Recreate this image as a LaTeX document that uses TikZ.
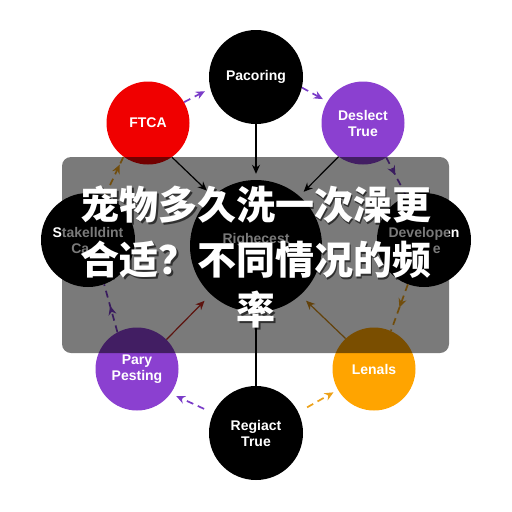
\documentclass[tikz,border=0pt]{standalone}
\usepackage{fontspec}
\setmainfont{Liberation Sans}
\newfontfamily\cjk{Noto Sans CJK SC}
\usetikzlibrary{arrows.meta,decorations.markings}
\definecolor{cred}{HTML}{F00000}
\definecolor{cpur}{HTML}{8B40D0}
\definecolor{corg}{HTML}{FFA400}
\definecolor{dpur}{HTML}{7A3CC8}
\definecolor{dorg}{HTML}{EDA21A}
\definecolor{dred}{HTML}{C42A20}
\definecolor{dgold}{HTML}{D08A18}
\begin{document}
\begin{tikzpicture}[x=1pt,y=-1pt,
  circ/.style={circle,inner sep=0pt,text=white,align=center,
    font=\bfseries\fontsize{14}{16}\selectfont},
  big/.style={circ,minimum size=94pt},
  small/.style={circ,minimum size=83pt},
  tipst/.style={-{Stealth[length=9pt,width=8pt]}},
  dashln/.style={line width=1.7pt,dash pattern=on 7pt off 5pt},
  pdash/.style={dashln,draw=dpur,tipst},
  odash/.style={dashln,draw=dorg,tipst},
  solidarrow/.style={line width=1.2pt,tipst},
  midarrow/.style={postaction={decorate},decoration={markings,
    mark=at position #1 with {\arrow{Stealth[length=9pt,width=8pt]}}}},
  overlay/.style={fill=black,opacity=0.52,rounded corners=9pt},
  title/.style={font=\cjk\bfseries\fontsize{39}{53}\selectfont,inner sep=0pt},
  tshadow/.style={title,text=black,opacity=0.6},
  tmain/.style={title,text=white}
]
\useasboundingbox (0,0) rectangle (512,512);
\fill[white] (0,0) rectangle (512,512);

% nodes
\node[big,fill=black] (pac) at (256,77) {Pacoring};
\node[small,fill=cred] (ftca) at (148,123) {FTCA};
\node[small,fill=cpur] (des) at (363,123) {Deslect\\True};
\node[big,fill=black] (stk) at (88,240) {Stakelldint\\Ca\phantom{se}};
\node[circ,fill=black,minimum size=132pt] (ctr) at (256,246) {Righecest\\\phantom{Architect}};
\node[big,fill=black] (dev) at (424,240) {Developen\\\phantom{Cas}e};
\node[small,fill=cpur] (pary) at (137,369) {Pary\\Pesting};
\node[small,fill=corg] (len) at (374,369) {Lenals};
\node[big,fill=black] (reg) at (256,433) {Regiact\\True};

% connectors
\draw[pdash,shorten >=6pt] (ftca.30) -- (pac.194);
\draw[pdash,shorten >=5pt] (pac.347) -- (des.149);
\draw[solidarrow,draw=black,shorten >=6pt] (pac.south) -- (ctr.north);
\draw[solidarrow,draw=black,shorten >=8pt] (ftca.305) -- (ctr.131);
\draw[solidarrow,draw=black,shorten >=6pt] (des.234) -- (ctr.49);
\draw[dashln,draw=dpur,midarrow=0.45] (des.304) -- (dev.112);
\draw[dashln,draw=dorg,midarrow=0.8] (stk.69) -- (ftca.234);
\draw[dashln,draw=dpur,midarrow=0.55] (pary.118) -- (stk.290);
\draw[dashln,draw=dorg,midarrow=0.5] (dev.250) -- (len.66);
\draw[solidarrow,draw=dred,shorten >=9pt] (pary.45) -- (ctr.227);
\draw[solidarrow,draw=dgold,shorten >=8pt] (len.133) -- (ctr.312);
\draw[pdash,shorten <=10pt,shorten >=6pt] (reg.155) -- (pary.324);
\draw[odash,shorten <=10pt,shorten >=5pt] (reg.26) -- (len.210);
\draw[line width=1.2pt] (ctr.south) -- (reg.north);

% overlay
\fill[overlay] (62,157) rectangle (449,353);
\node[tshadow] (s1) at (257.5,206.5) {宠物多久洗一次澡更};
\node[tshadow] (s2) at (257.5,261.5) {合适？不同情况的频};
\node[tshadow] (s3) at (257.5,311.5) {率};
\node[tmain] (t1) at (256,205) {宠物多久洗一次澡更};
\node[tmain] (t2) at (256,260) {合适？不同情况的频};
\node[tmain] (t3) at (256,310) {率};
\end{tikzpicture}
\end{document}
